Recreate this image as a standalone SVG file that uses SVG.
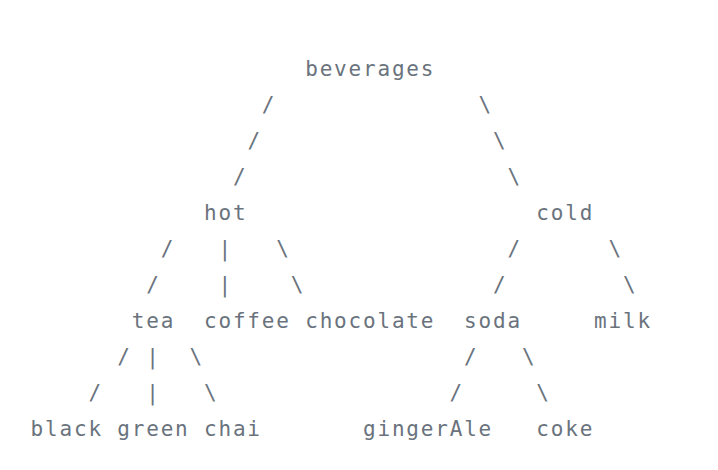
<svg xmlns="http://www.w3.org/2000/svg" width="718" height="470" viewBox="0 0 718 470">
<style>
text{font-family:"DejaVu Sans Mono","Liberation Mono",monospace;font-size:21px;fill:#6a737d;letter-spacing:1.81px;white-space:pre}
</style>
<rect width="718" height="470" fill="#ffffff"/>
<g id="connectors">
<text x="261.8" y="112">/</text>
<text x="478.5" y="112">\</text>
<text x="247.4" y="148">/</text>
<text x="493.0" y="148">\</text>
<text x="232.9" y="184">/</text>
<text x="507.4" y="184">\</text>
<text x="160.7" y="256">/</text>
<text x="218.5" y="256">|</text>
<text x="276.3" y="256">\</text>
<text x="507.4" y="256">/</text>
<text x="608.6" y="256">\</text>
<text x="146.2" y="292">/</text>
<text x="218.5" y="292">|</text>
<text x="290.7" y="292">\</text>
<text x="493.0" y="292">/</text>
<text x="623.0" y="292">\</text>
<text x="117.3" y="364">/</text>
<text x="146.2" y="364">|</text>
<text x="189.5" y="364">\</text>
<text x="464.1" y="364">/</text>
<text x="521.9" y="364">\</text>
<text x="88.4" y="400">/</text>
<text x="146.2" y="400">|</text>
<text x="204.0" y="400">\</text>
<text x="449.6" y="400">/</text>
<text x="536.3" y="400">\</text>
</g>
<g id="beverages"><text x="305.2" y="76">beverages</text></g>
<g id="hot"><text x="204.0" y="220">hot</text></g>
<g id="cold"><text x="536.3" y="220">cold</text></g>
<g id="tea"><text x="131.8" y="328">tea</text></g>
<g id="coffee"><text x="204.0" y="328">coffee</text></g>
<g id="chocolate"><text x="305.2" y="328">chocolate</text></g>
<g id="soda"><text x="464.1" y="328">soda</text></g>
<g id="milk"><text x="594.1" y="328">milk</text></g>
<g id="black"><text x="30.6" y="436">black</text></g>
<g id="green"><text x="117.3" y="436">green</text></g>
<g id="chai"><text x="204.0" y="436">chai</text></g>
<g id="gingerAle"><text x="363.0" y="436">gingerAle</text></g>
<g id="coke"><text x="536.3" y="436">coke</text></g>
</svg>
